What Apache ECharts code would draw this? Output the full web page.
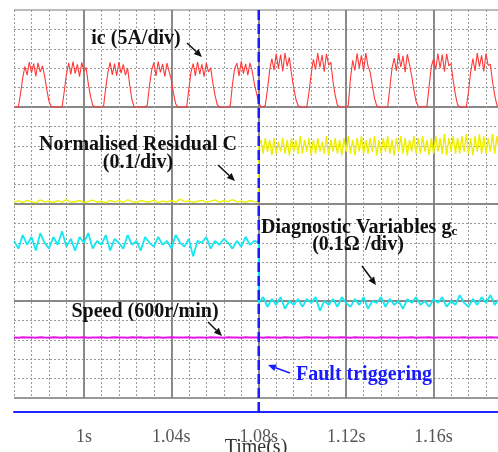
<!DOCTYPE html>
<html>
<head>
<meta charset="utf-8">
<script src="https://cdn.jsdelivr.net/npm/echarts/dist/echarts.min.js"></script>
<style>
  html, body { margin: 0; padding: 0; background: #fff; }
  #chart { width: 498px; height: 452px; }
</style>
</head>
<body>
<div id="chart"></div>
<script>
// time axis (s)
const tStart = 0.968
const tEnd = 1.1895
const tFault = 1.08
const majorTimes = [1.0, 1.04, 1.08, 1.12, 1.16]
const tickLabels = ['1s', '1.04s', '1.08s', '1.12s', '1.16s']

// ic (A), sampled every 1 ms from 0.968 s
const currentA = [
  0, 0, 0, 3.5, 7.5, 10.5, 8.2, 11.6, 8.8, 11.2,
  7.9, 11.4, 9.0, 10.6, 8.0, 4.5, 1.5, 0.2, 0, 0,
  0, 0, 0, 4.0, 8.5, 11.3, 8.4, 11.7, 8.6, 11.0,
  7.8, 11.5, 9.2, 10.2, 6.0, 2.8, 0.5, 0, 0, 0,
  0, 0.3, 5.0, 9.0, 11.5, 8.3, 11.2, 8.1, 11.6, 8.7,
  11.0, 8.2, 10.0, 5.5, 1.8, 0, 0, 0, 0, 0,
  0, 0.5, 5.5, 9.5, 11.4, 8.0, 11.7, 8.9, 11.1, 7.9,
  11.3, 9.1, 7.0, 3.5, 0.8, 0, 0, 0, 0, 0,
  4.5, 9.0, 11.2, 8.1, 11.6, 8.5, 11.0, 7.8, 11.4, 9.0,
  10.1, 6.2, 3.0, 0.6, 0, 0, 0, 0, 0, 0.4,
  6.0, 10.0, 11.3, 8.0, 11.8, 8.6, 11.1, 8.2, 11.4, 9.3,
  6.0, 3.5, 1.2, 0, 0, 0.5, 4.5, 9.5, 12.5, 9.5,
  13.8, 10.0, 13.5, 9.2, 13.9, 10.5, 12.8, 8.5, 5.0, 2.0,
  0.4, 0, 0, 0, 0, 3.8, 8.5, 12.3, 9.6, 13.9,
  10.2, 13.4, 9.1, 13.7, 10.8, 11.5, 6.5, 3.0, 0.5, 0,
  0, 0, 0, 0.5, 7.5, 12.0, 9.4, 13.8, 10.1, 13.3,
  9.3, 13.9, 10.6, 9.0, 5.5, 2.2, 0.3, 0, 0, 0,
  0, 0, 5.0, 10.0, 12.6, 9.3, 13.9, 10.3, 13.2, 9.0,
  13.6, 10.9, 8.0, 4.5, 1.5, 0.2, 0, 0, 0, 0.3,
  5.5, 10.5, 12.4, 9.6, 13.8, 10.0, 13.5, 9.1, 13.7, 10.6,
  11.2, 6.8, 3.2, 0.6, 0, 0, 0, 0, 4.0, 9.0,
  12.5, 9.3, 13.9, 10.4, 13.3, 9.2, 13.8, 10.7, 11.0, 6.5,
  3.0, 0.5, 0
]

// normalised residual C, before fault every 2 ms, after fault every 1 ms
const residualBefore = [
  0.010, 0.016, 0.008, 0.019, 0.012, 0.006, 0.021, 0.011, 0.015, 0.007,
  0.017, 0.010, 0.023, 0.009, 0.013, 0.018, 0.008, 0.012, 0.020, 0.010,
  0.014, 0.006, 0.019, 0.011, 0.016, 0.009, 0.022, 0.012, 0.008, 0.017,
  0.013, 0.010, 0.020, 0.007, 0.015, 0.011, 0.018, 0.009, 0.025, 0.012,
  0.016, 0.008, 0.014, 0.019, 0.010, 0.015, 0.021, 0.009, 0.017, 0.012,
  0.023, 0.011, 0.015, 0.008, 0.018, 0.012, 0.010
]
const residualAfter = [
  0.30, 0.33, 0.26, 0.34, 0.27, 0.33, 0.25, 0.34, 0.26, 0.32,
  0.27, 0.34, 0.26, 0.33, 0.25, 0.34, 0.27, 0.33, 0.26, 0.35,
  0.26, 0.33, 0.27, 0.34, 0.25, 0.33, 0.26, 0.34, 0.27, 0.32,
  0.26, 0.35, 0.25, 0.33, 0.27, 0.34, 0.26, 0.33, 0.25, 0.34,
  0.27, 0.35, 0.26, 0.33, 0.25, 0.34, 0.27, 0.35, 0.26, 0.33,
  0.26, 0.34, 0.27, 0.35, 0.25, 0.33, 0.26, 0.34, 0.27, 0.35,
  0.26, 0.33, 0.25, 0.34, 0.27, 0.35, 0.26, 0.34, 0.25, 0.33,
  0.27, 0.35, 0.26, 0.34, 0.26, 0.35, 0.27, 0.33, 0.25, 0.34,
  0.26, 0.35, 0.27, 0.34, 0.26, 0.36, 0.25, 0.34, 0.27, 0.35,
  0.26, 0.34, 0.26, 0.35, 0.27, 0.36, 0.26, 0.34, 0.25, 0.35,
  0.27, 0.36, 0.26, 0.35, 0.26, 0.34, 0.27, 0.36, 0.26, 0.35, 0.27
]

// diagnostic variable gc (ohm), every 2 ms
const gcBefore = [
  0.31, 0.27, 0.34, 0.29, 0.33, 0.26, 0.35, 0.30, 0.27, 0.33,
  0.29, 0.36, 0.28, 0.32, 0.26, 0.33, 0.30, 0.35, 0.27, 0.31,
  0.29, 0.34, 0.26, 0.32, 0.30, 0.27, 0.34, 0.29, 0.31, 0.26,
  0.33, 0.30, 0.28, 0.33, 0.29, 0.31, 0.27, 0.34, 0.30, 0.28,
  0.32, 0.23, 0.31, 0.30, 0.33, 0.27, 0.31, 0.29, 0.32, 0.30,
  0.27, 0.31, 0.28, 0.33, 0.29, 0.31, 0.30
]
const gcAfter = [
  -0.01, 0.02, -0.03, 0.01, -0.02, 0.02, -0.04, 0.00, -0.02, 0.01,
  -0.03, 0.01, -0.01, 0.02, -0.05, 0.00, -0.02, 0.01, -0.03, 0.02,
  -0.01, -0.03, 0.01, -0.02, 0.02, -0.04, 0.00, -0.01, 0.02, -0.03,
  0.01, -0.02, 0.00, -0.04, 0.01, -0.01, 0.02, -0.02, 0.00, -0.03,
  0.01, -0.01, 0.02, -0.03, 0.00, -0.02, 0.03, -0.01, -0.03, 0.01,
  -0.02, 0.02, -0.01, 0.03, -0.02, 0.01
]

// speed (r/min), every 2 ms
const speedRpm = [
  1872, 1866, 1878, 1869, 1875, 1863, 1880, 1870, 1867, 1876,
  1871, 1864, 1879, 1868, 1874, 1870, 1882, 1866, 1873, 1869,
  1877, 1865, 1872, 1880, 1868, 1874, 1863, 1876, 1870, 1878,
  1867, 1873, 1869, 1881, 1865, 1872, 1876, 1868, 1874, 1870,
  1879, 1866, 1871, 1875, 1864, 1878, 1870, 1873, 1867, 1876,
  1869, 1874, 1866, 1879, 1871, 1868, 1875, 1863, 1877, 1870,
  1873, 1867, 1880, 1869, 1874, 1865, 1872, 1878, 1868, 1875,
  1870, 1864, 1877, 1871, 1868, 1876, 1873, 1866, 1879, 1870,
  1874, 1868, 1872, 1865, 1877, 1871, 1869, 1875, 1866, 1873,
  1870, 1878, 1867, 1874, 1869, 1876, 1864, 1872, 1870, 1875,
  1868, 1873, 1871, 1877, 1866, 1874, 1870, 1872, 1869, 1876,
  1871, 1868
]

// 每个通道在屏幕上的位置: 零点所在格 + 每格的量
function timed(values, start, step, zeroDiv, perDiv) {
  return values.map((v, i) => [+(start + i * step).toFixed(4), zeroDiv + v / perDiv])
}

const serif = '"Liberation Serif", "Times New Roman", serif'
const boldFont = 'bold 20px ' + serif

function arrow(x1, y1, x2, y2, color) {
  let a = Math.atan2(y2 - y1, x2 - x1)
  let bx = x2 - 8 * Math.cos(a), by = y2 - 8 * Math.sin(a)
  let w = 3.5
  return [{
    type: 'line', z: 100,
    shape: { x1: x1, y1: y1, x2: bx, y2: by },
    style: { stroke: color, lineWidth: 1.5 }
  }, {
    type: 'polygon', z: 100,
    shape: { points: [[x2, y2], [bx + w * Math.sin(a), by - w * Math.cos(a)], [bx - w * Math.sin(a), by + w * Math.cos(a)]] },
    style: { fill: color }
  }]
}

function label(text, x, y, align, color) {
  return {
    type: 'text', x: x, y: y, z: 100,
    style: { text: text, font: boldFont, fill: color || '#111', align: align || 'center', verticalAlign: 'middle' }
  }
}

let chart = echarts.init(document.getElementById('chart'))
let option = {
  animation: false,
  grid: { left: 14, right: 0, top: 10, bottom: 54, containLabel: false, outerBoundsMode: 'none' },
  xAxis: {
    type: 'value',
    min: tStart,
    max: tEnd,
    interval: 0.008,
    offset: 14,
    axisLine: { show: true, onZero: false, lineStyle: { color: '#2424ff', width: 2 } },
    axisTick: { show: false },
    axisLabel: {
      margin: 16,
      fontSize: 18,
      fontFamily: serif,
      color: '#555',
      formatter: function (v) {
        let k = majorTimes.findIndex(t => Math.abs(t - v) < 1e-6)
        return k >= 0 ? tickLabels[k] : ''
      }
    },
    splitLine: { show: true, lineStyle: { color: '#9a9a9a', width: 1, type: [2, 2] } },
    name: 'Time(s)',
    nameLocation: 'middle',
    nameGap: 26,
    nameMoveOverlap: false,
    nameTextStyle: { fontSize: 20, fontFamily: serif, color: '#333' }
  },
  yAxis: [{
    type: 'value', min: 0, max: 20, interval: 1,
    axisLine: { show: false }, axisTick: { show: false }, axisLabel: { show: false },
    splitLine: { show: true, lineStyle: { color: '#9a9a9a', width: 1, type: [2, 2] } }
  }, {
    type: 'value', min: 0, max: 20, interval: 5,
    axisLine: { show: false }, axisTick: { show: false }, axisLabel: { show: false },
    splitLine: { show: true, lineStyle: { color: ['#999', '#888', '#888', '#888', '#bbb'], width: 1.8 } }
  }],
  series: [{
    name: 'ic',
    type: 'line',
    z: 3,
    symbol: 'none',
    data: timed(currentA, tStart, 0.001, 15, 5),
    lineStyle: { color: '#ff3838', width: 1.1 },
    markLine: {
      silent: true,
      z: 1,
      symbol: 'none',
      label: { show: false },
      lineStyle: { color: '#808080', width: 1.8, type: 'solid' },
      data: majorTimes.map(t => ({ xAxis: t }))
    }
  }, {
    name: 'C',
    type: 'line',
    z: 3,
    symbol: 'none',
    data: timed(residualBefore, tStart, 0.002, 10, 0.1).concat(timed(residualAfter, tFault, 0.001, 10, 0.1)),
    lineStyle: { color: '#eeee00', width: 1.4 }
  }, {
    name: 'gc',
    type: 'line',
    z: 3,
    symbol: 'none',
    data: timed(gcBefore, tStart, 0.002, 5, 0.1).concat(timed(gcAfter, tFault, 0.002, 5, 0.1)),
    lineStyle: { color: '#11e8f0', width: 1.8 }
  }, {
    name: 'speed',
    type: 'line',
    z: 3,
    symbol: 'none',
    data: timed(speedRpm, tStart, 0.002, 0, 600),
    lineStyle: { color: '#e614e6', width: 2 }
  }],
  graphic: [
    label('ic (5A/div)', 136, 39),
    label('Normalised Residual C', 138, 145),
    label('(0.1/div)', 138, 163),
    {
      type: 'text', x: 261, y: 228, z: 100,
      style: {
        text: 'Diagnostic Variables g{s|c}',
        font: boldFont, fill: '#111', align: 'left', verticalAlign: 'middle',
        rich: { s: { font: 'bold 13px ' + serif, fill: '#111', verticalAlign: 'bottom' } }
      }
    },
    label('(0.1Ω /div)', 358, 245),
    label('Speed (600r/min)', 145, 312),
    label('Fault triggering', 296, 375, 'left', '#1a1aff')
  ].concat(
    arrow(187, 43, 202, 57, '#111'),
    arrow(218, 165, 235, 181, '#111'),
    arrow(362, 266, 376, 285, '#111'),
    arrow(208, 322, 222, 336, '#111'),
    arrow(290, 373, 268, 365, '#1a1aff')
  )
}
chart.setOption(option)

// 故障时刻的虚线, 从网格顶部画到时间轴下方
let faultTop = chart.convertToPixel({ gridIndex: 0 }, [tFault, 20])
let faultBottom = chart.convertToPixel({ gridIndex: 0 }, [tFault, 0])
chart.setOption({
  graphic: option.graphic.concat([{
    type: 'line', z: 110,
    shape: { x1: faultTop[0], y1: faultTop[1], x2: faultBottom[0], y2: faultBottom[1] + 16 },
    style: { stroke: '#1a1aff', lineWidth: 2.5, lineDash: [10, 4] }
  }])
})
</script>
</body>
</html>
